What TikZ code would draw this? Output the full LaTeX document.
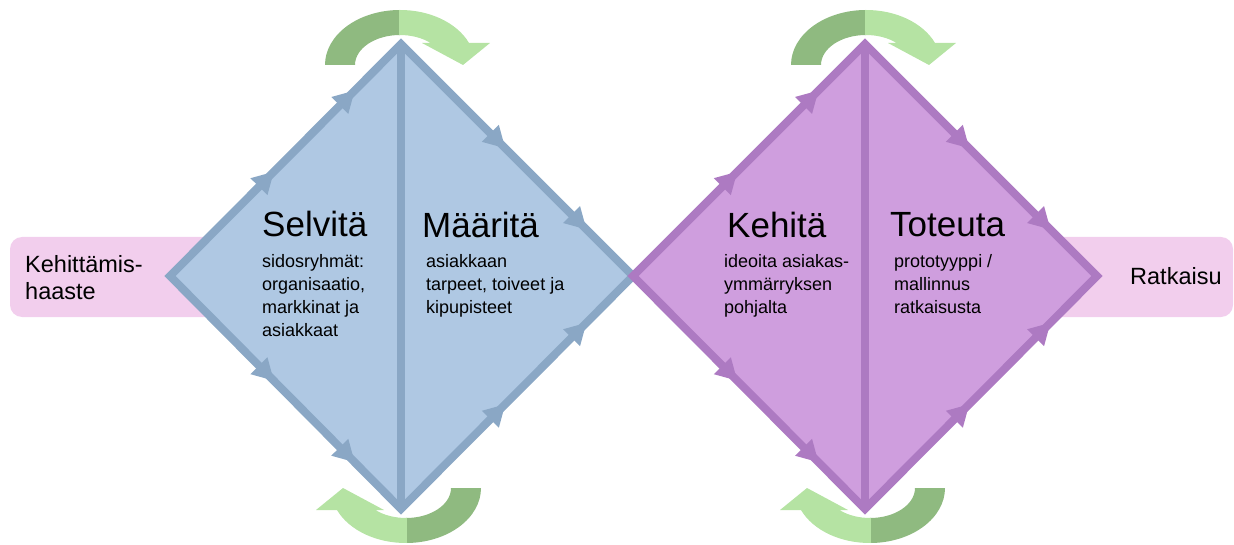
\documentclass[tikz,border=0pt]{standalone}
\usepackage{fontspec}
\setmainfont{Liberation Sans}
\usetikzlibrary{decorations.markings}

\definecolor{barpink}{HTML}{F2CEED}
\definecolor{bluefill}{HTML}{AFC8E3}
\definecolor{blueline}{HTML}{8AA7C5}
\definecolor{purplefill}{HTML}{CF9EDE}
\definecolor{purpleline}{HTML}{AD7AC2}
\definecolor{darkgreen}{HTML}{8FBA80}
\definecolor{lightgreen}{HTML}{B5E3A3}

% curved arrow above / below a diamond
\newcommand{\turnarrow}[3]{%
    \begin{scope}[shift={(#1,#2)}, rotate=#3]
        \fill[darkgreen] (-75,0) arc[start angle=180, end angle=270, x radius=75, y radius=55]
            -- (0,-30) arc[start angle=270, end angle=180, x radius=45, y radius=30] -- cycle;
        \fill[lightgreen] (-1,-55) arc[start angle=269, end angle=336.4, x radius=75, y radius=55]
            -- (90,-22) -- (63,0) -- (22,-22) -- (30.6,-22)
            arc[start angle=312.8, end angle=269, x radius=45, y radius=30] -- cycle;
    \end{scope}}

\begin{document}
\begin{tikzpicture}[
        x=1pt, y=-1pt,
        bar/.style={fill=barpink, rounded corners=12pt},
        diamond/.style={line width=8pt, line join=miter},
        midarrows/.style={postaction={decorate}, decoration={markings,
            mark=at position 0.44 with {\fill[#1] (-18pt,-12pt) -- (3pt,0pt) -- (-18pt,12pt) -- cycle;},
            mark=at position 0.79 with {\fill[#1] (-18pt,-12pt) -- (3pt,0pt) -- (-18pt,12pt) -- cycle;}}},
        title/.style={anchor=base west, inner sep=0pt, font=\fontsize{35}{40}\selectfont},
        % multi-line nodes sit on the baseline of their last line
        detail/.style={anchor=base west, inner sep=0pt, align=left, font=\fontsize{18}{23}\selectfont},
        bartext/.style={anchor=base west, inner sep=0pt, align=left, font=\fontsize{23.5}{27}\selectfont}
    ]
        \useasboundingbox (0,0) rectangle (1234,545);

        % Side bars
        \fill[bar] (10,237) rectangle (300,317);
        \fill[bar] (1000,237) rectangle (1233,317);

        % Curved arrows
        \turnarrow{400}{65}{0}
        \turnarrow{406}{488}{180}
        \turnarrow{866}{65}{0}
        \turnarrow{870}{488}{180}

        % Corners of the diamonds
        \coordinate (SL) at (170,276);
        \coordinate (ST) at (401,44);
        \coordinate (SR) at (633,276);
        \coordinate (SB) at (401,509);
        \coordinate (KT) at (865,44);
        \coordinate (KR) at (1097,276);
        \coordinate (KB) at (865,509);

        % Left diamond
        \filldraw[diamond, fill=bluefill, draw=blueline] (SL) -- (ST) -- (SR) -- (SB) -- cycle;
        \draw[diamond, blueline] (ST) -- (SB);
        \path[midarrows=blueline] (SL) -- (ST);
        \path[midarrows=blueline] (ST) -- (SR);
        \path[midarrows=blueline] (SL) -- (SB);
        \path[midarrows=blueline] (SB) -- (SR);

        % Right diamond
        \filldraw[diamond, fill=purplefill, draw=purpleline] (SR) -- (KT) -- (KR) -- (KB) -- cycle;
        \draw[diamond, purpleline] (KT) -- (KB);
        \path[midarrows=purpleline] (SR) -- (KT);
        \path[midarrows=purpleline] (KT) -- (KR);
        \path[midarrows=purpleline] (SR) -- (KB);
        \path[midarrows=purpleline] (KB) -- (KR);

        % Texts
        \node[bartext] (haaste) at (25,299) {Kehittämis-\\haaste};
        \node[bartext] (ratkaisu) at (1130,285) {Ratkaisu};

        \node[title] (selvita) at (262,237) {Selvitä};
        \node[detail] (selvitatext) at (262,336) {sidosryhmät:\\organisaatio,\\markkinat ja\\asiakkaat};
        \node[title] (maarita) at (422,238) {Määritä};
        \node[detail] (maaritatext) at (426,313) {asiakkaan\\tarpeet, toiveet ja\\kipupisteet};
        \node[title] (kehita) at (727,238) {Kehitä};
        \node[detail] (kehitatext) at (724,313) {ideoita asiakas-\\ymmärryksen\\pohjalta};
        \node[title] (toteuta) at (890,237) {Toteuta};
        \node[detail] (toteutatext) at (894,313) {prototyyppi /\\mallinnus\\ratkaisusta};
    \end{tikzpicture}
\end{document}
